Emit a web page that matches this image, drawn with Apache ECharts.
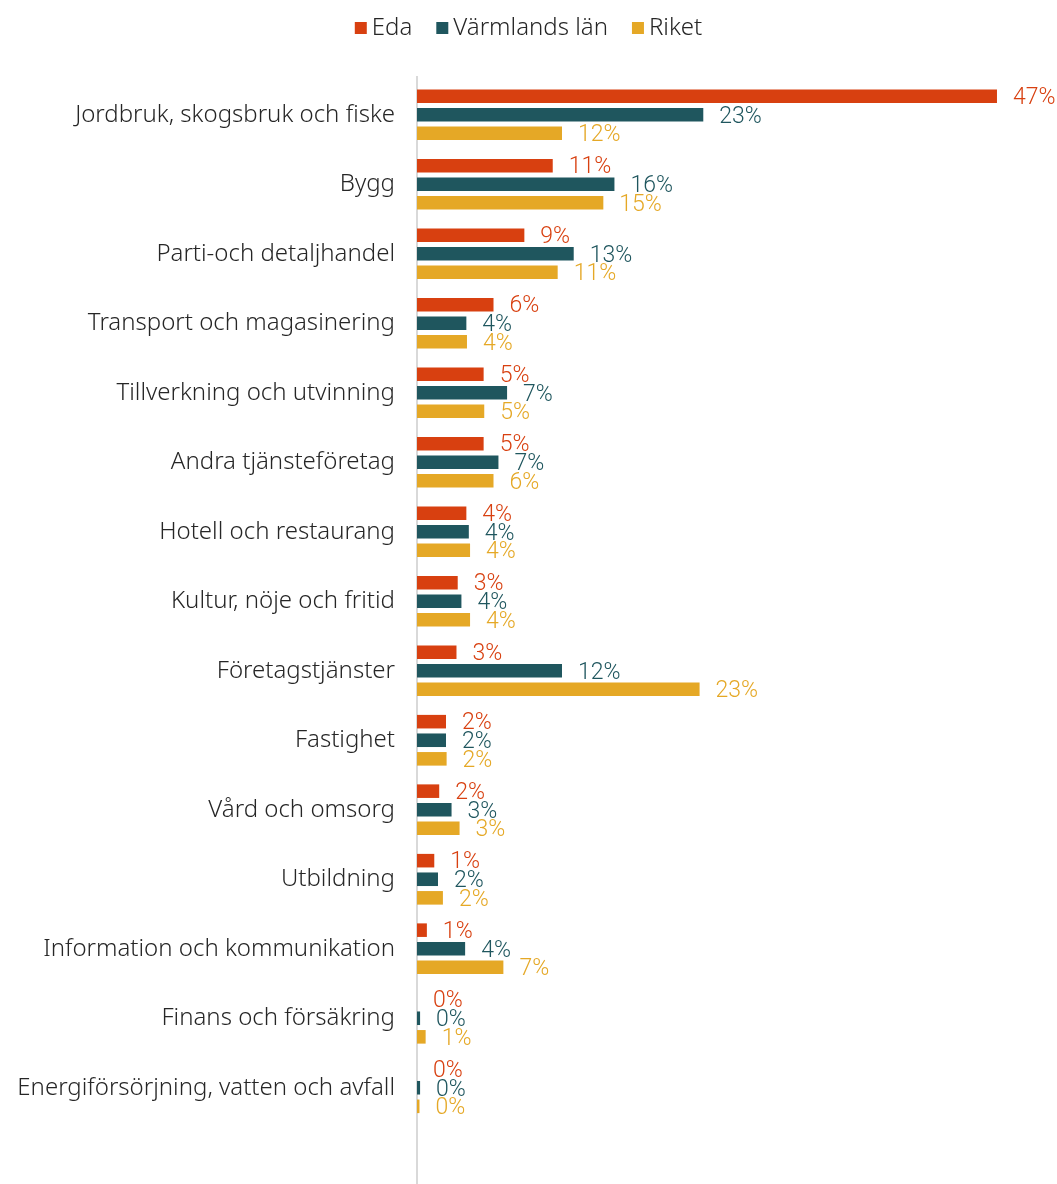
<!DOCTYPE html>
<html><head><meta charset="utf-8">
<script src="https://cdn.jsdelivr.net/npm/echarts@6/dist/echarts.min.js"></script>
<style>html,body{margin:0;padding:0;background:#fff}#c{width:1057px;height:1184px}</style>
</head><body><div id="c"></div>
<script>
const categories = ["Jordbruk, skogsbruk och fiske","Bygg","Parti-och detaljhandel","Transport och magasinering","Tillverkning och utvinning","Andra tjänsteföretag","Hotell och restaurang","Kultur, nöje och fritid","Företagstjänster","Fastighet","Vård och omsorg","Utbildning","Information och kommunikation","Finans och försäkring","Energiförsörjning, vatten och avfall"];
const seriesNames = ["Eda","Värmlands län","Riket"];
const eda = [47.0,11.0,8.7,6.2,5.4,5.4,4.0,3.3,3.2,2.35,1.8,1.4,0.8,0,0];
const varmland = [23.2,16.0,12.7,4.0,7.3,6.6,4.2,3.6,11.75,2.35,2.8,1.7,3.9,0.25,0.25];
const riket = [11.75,15.1,11.4,4.05,5.45,6.2,4.3,4.3,22.9,2.4,3.45,2.1,7.0,0.7,0.2];
const colors = ["#D84010","#1F565E","#E5A826"];
const values = [eda, varmland, riket];

const chart = echarts.init(document.getElementById('c'));
const gridTop = 80, gridH = 1042.5;
const font = 'Noto Sans';
chart.setOption({
  animation:false,
  legend:{top:11,left:'center',itemWidth:12,itemHeight:12,itemGap:24,icon:'rect',
    textStyle:{fontFamily:font,fontWeight:300,fontSize:24,color:'#262626'}},
  grid:{left:417,top:gridTop,height:gridH,right:23},
  xAxis:{type:'value',min:0,max:50,show:false},
  yAxis:{type:'category',data:categories,inverse:true,
    axisLine:{lineStyle:{color:'#d9d9d9',width:2}},axisTick:{show:false},
    axisLabel:{fontFamily:font,fontWeight:300,fontSize:24,color:'#262626',margin:22}},
  graphic:[{type:'line',shape:{x1:417,y1:76,x2:417,y2:1184},style:{stroke:'#d9d9d9',lineWidth:2},silent:true,z:-1}],
  series: seriesNames.map((n,i)=>({
    name:n,type:'bar',data:values[i],barCategoryGap:'27%',barGap:'37%',
    itemStyle:{color:colors[i]},
    label:{show:true,position:'right',distance:16,offset:[0,2],color:colors[i],
      fontFamily:'Roboto',fontWeight:300,fontSize:23,
      formatter:p=>Math.round(p.value)+'%'}
  }))
});
</script></body></html>
